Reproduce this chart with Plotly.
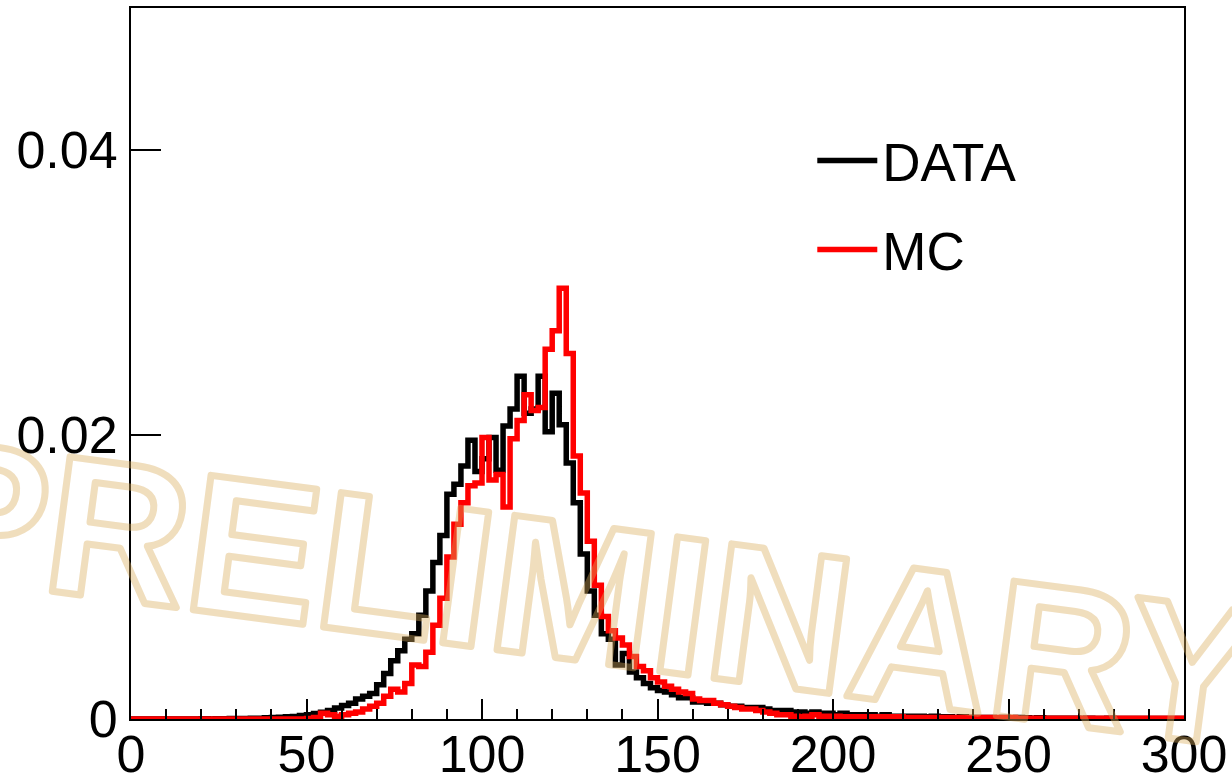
import numpy as np
import plotly.graph_objects as go

# ---- binning ----
X_MIN, X_MAX, BIN_WIDTH = 0, 300, 2

# ---- DATA histogram (normalised), one value per 2-unit bin from 0 to 300 ----
data_vals = [
    0, 0, 0, 0, 0, 0, 0, 0, 0, 0,                                   # 0-18
    0.00002, 0, 0.00002, 0.00002, 0.00003, 0.00004, 0.00004, 0.00005, 0.00006, 0.00008,  # 20-38
    0.0001, 0.00012, 0.00015, 0.00018, 0.00024, 0.0003, 0.00038, 0.00048, 0.0006, 0.00078,  # 40-58
    0.00095, 0.0011, 0.0014, 0.0016, 0.0018, 0.0024, 0.0032, 0.0041, 0.0048, 0.0056,  # 60-78
    0.006, 0.0073, 0.009, 0.011, 0.0129, 0.0158, 0.0165, 0.0178, 0.0196, 0.0174,  # 80-98
    0.0183, 0.0198, 0.0175, 0.0206, 0.0218, 0.0241, 0.0215, 0.0218, 0.0241, 0.0202,  # 100-118
    0.0229, 0.0207, 0.018, 0.0152, 0.0116, 0.009, 0.0073, 0.006, 0.0056, 0.0038,  # 120-138
    0.0046, 0.0033, 0.0029, 0.0025, 0.0022, 0.002, 0.0019, 0.0017, 0.0015, 0.0015,  # 140-158
    0.0012, 0.0012, 0.0011, 0.0011, 0.001, 0.0009, 0.0009, 0.0008, 0.0008, 0.0008,  # 160-178
    0.0007, 0.0006, 0.0006, 0.0006, 0.0005, 0.0005, 0.0004, 0.0005, 0.0004, 0.0004,  # 180-198
    0.0003, 0.0004, 0.0003, 0.0003, 0.0003, 0.0003, 0.0002, 0.0003, 0.0002, 0.0002,  # 200-218
    0.0002, 0.0002, 0.0002, 0.00015, 0.0002, 0.00015, 0.00015, 0.0001, 0.00015, 0.0001,  # 220-238
    0.0001, 0.0001, 0.0001, 0.00008, 0.0001, 0.00008, 0.0001, 0.00008, 0.00006, 0.00008,  # 240-258
    0.00006, 0.00005, 0.00006, 0.00005, 0.00005, 0.00004, 0.00005, 0.00004, 0.00004, 0.00005,  # 260-278
    0.00004, 0.00004, 0.00003, 0.00004, 0.00003, 0.00003, 0.00004, 0.00003, 0.00003, 0.00003,  # 280-298
]

# ---- MC histogram (normalised) ----
mc_vals = [
    0, 0, 0, 0, 0, 0, 0, 0, 0, 0,                                   # 0-18
    0, 0, 0, 0, 0, 0, 0, 0, 0, 0,                                   # 20-38
    0, 0, 0, 0, 0, 0.00003, 0.0001, 0.0004, 0.0003, 0.0002,          # 40-58
    0.0003, 0.0004, 0.0005, 0.0007, 0.0009, 0.0011, 0.0016, 0.0021, 0.0019, 0.0025,  # 60-78
    0.0038, 0.0037, 0.0047, 0.0066, 0.0085, 0.0114, 0.0137, 0.0152, 0.0164, 0.0166,  # 80-98
    0.0198, 0.0168, 0.0172, 0.0149, 0.0197, 0.021, 0.0228, 0.0217, 0.0219, 0.026,  # 100-118
    0.0273, 0.0303, 0.0257, 0.0185, 0.0159, 0.0125, 0.0094, 0.0072, 0.0062, 0.0057,  # 120-138
    0.0052, 0.0044, 0.0037, 0.0034, 0.0029, 0.0026, 0.0023, 0.0021, 0.0019, 0.0018,  # 140-158
    0.0014, 0.0013, 0.0013, 0.0011, 0.001, 0.0009, 0.0008, 0.0007, 0.0007, 0.0006,  # 160-178
    0.0005, 0.0004, 0.0003, 0.0003, 0.0002, 0.00015, 0.0002, 0.0003, 0.0002, 0.0002,  # 180-198
    0.0002, 0.00015, 0.00015, 0.00015, 0.00015, 0.00015, 0.00015, 0.00015, 0.00015, 0.00015,  # 200-218
    0.0001, 0.0001, 0.0001, 0.0001, 0.0001, 0.0001, 0.0001, 0.0001, 0.0001, 0.0001,  # 220-238
    0.0001, 0.0001, 0.0001, 0.0001, 0.0001, 0.0001, 0.00005, 0.00005, 0.00005, 0.00005,  # 240-258
    0.00005, 0.00005, 0.00005, 0.00005, 0.00005, 0.00005, 0.00005, 0.00005, 0.00005, 0.00005,  # 260-278
    0.00005, 0.00005, 0.00005, 0.00005, 0.00005, 0.00005, 0.00005, 0.00005, 0.00005, 0.00005,  # 280-298
]

x_ticks = [0, 50, 100, 150, 200, 250, 300]
x_tick_labels = ["0", "50", "100", "150", "200", "250", "300"]
y_ticks = [0, 0.02, 0.04]
y_tick_labels = ["0", "0.02", "0.04"]
series_names = ["DATA", "MC"]
watermark_text = "PRELIMINARY"

edges = np.arange(X_MIN, X_MAX + BIN_WIDTH, BIN_WIDTH)


def step_xy(vals):
    # step outline of a histogram: edges with the last value repeated, closed to zero at both ends
    xs = np.concatenate([[edges[0]], edges, [edges[-1]]])
    ys = np.concatenate([[0], vals, [vals[-1], 0]])
    return xs, ys


FONT = "Liberation Sans, Arial, Helvetica, sans-serif"

fig = go.Figure()
for name, vals, color in [(series_names[0], data_vals, "black"), (series_names[1], mc_vals, "#ff0000")]:
    xs, ys = step_xy(vals)
    fig.add_trace(go.Scatter(
        x=xs, y=ys, mode="lines", name=name,
        line=dict(color=color, width=5.5, shape="hv"),
        legendgroup=name,
    ))

fig.update_layout(
    width=1232, height=777,
    margin=dict(l=131, r=48, t=8, b=58, autoexpand=False),
    paper_bgcolor="white", plot_bgcolor="white",
    font=dict(family=FONT, size=52, color="black"),
    showlegend=True,
    legend=dict(
        x=0.647, y=0.843, xanchor="left", yanchor="top",
        bgcolor="rgba(0,0,0,0)", borderwidth=0,
        font=dict(family=FONT, size=53, color="black"),
        tracegroupgap=17, itemwidth=60,
    ),
    xaxis=dict(
        range=[X_MIN, X_MAX], tickvals=x_ticks, ticktext=x_tick_labels,
        ticks="inside", ticklen=20, tickwidth=2, tickcolor="black",
        minor=dict(dtick=10, tick0=0, ticks="inside", ticklen=10, tickwidth=2, tickcolor="black"),
        showline=True, linewidth=2, linecolor="black", mirror=True,
        showgrid=False, zeroline=False, ticklabelstandoff=-11, automargin=False,
        tickfont=dict(family=FONT, size=52, color="black"),
    ),
    yaxis=dict(
        range=[0, 0.05], tickvals=y_ticks, ticktext=y_tick_labels,
        ticks="inside", ticklen=30, tickwidth=2, tickcolor="black",
        showline=True, linewidth=2, linecolor="black", mirror=True,
        showgrid=False, zeroline=False, ticklabelstandoff=1, automargin=False,
        tickfont=dict(family=FONT, size=52, color="black"),
    ),
)

# PRELIMINARY watermark (outlined via post script below)
fig.add_annotation(
    text=watermark_text, xref="paper", yref="paper",
    x=0.4330, y=0.1770, xanchor="center", yanchor="middle",
    showarrow=False, textangle=7.5,
    font=dict(family=FONT, size=197, color="rgb(218,173,93)", weight="bold"),
)

post = """
var gd = document.getElementById('{plot_id}');
function outlineWatermark(){
  gd.querySelectorAll('.annotation-text').forEach(function(t){
    t.style.fill = 'none';
    t.style.stroke = 'rgb(218,173,93)';
    t.style.strokeWidth = '7px';
    t.style.strokeLinejoin = 'round';
    t.style.opacity = '0.4';
  });
}
outlineWatermark();
gd.on('plotly_afterplot', outlineWatermark);
"""

fig.write_html("out.html", post_script=post)
